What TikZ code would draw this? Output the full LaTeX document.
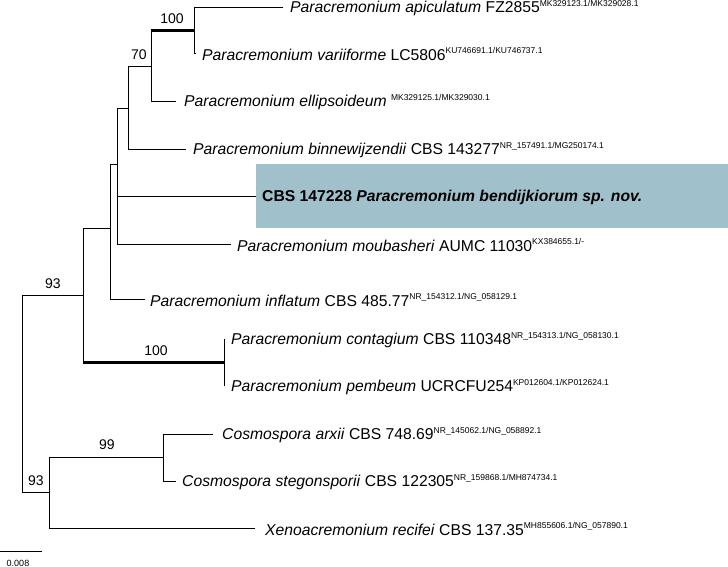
\documentclass[tikz,border=0pt]{standalone}
\usepackage{fontspec}
\setmainfont{Liberation Sans}
\newcommand{\acc}[1]{\raisebox{0.42em}{\fontsize{8.5}{8.5}\selectfont #1}}
\begin{document}
\begin{tikzpicture}[x=1pt,y=-1pt,
  br/.style={line width=0.8pt,black},
  thick br/.style={line width=3pt,black},
  lab/.style={anchor=west,inner sep=0pt,font=\fontsize{15.7}{18}\selectfont},
  bs/.style={font=\fontsize{14}{16}\selectfont,inner sep=0pt}]
\useasboundingbox (0,0) rectangle (728,567);
\fill[fill={rgb,255:red,160;green,193;blue,204}] (256,164) rectangle (728,228);
% internal nodes
\coordinate (nA) at (194,31);
\coordinate (n70) at (151,66);
\coordinate (nB) at (128,108);
\coordinate (nC) at (117,164);
\coordinate (nD) at (110,228);
\coordinate (n93) at (83,295);
\coordinate (root) at (22,295);
\coordinate (nE) at (22,492);
\coordinate (n93b) at (49,492);
\coordinate (n99) at (163,457);
\coordinate (nCP) at (224,362);
% tips
\coordinate (t1) at (283,7);
\coordinate (t2) at (196,53);
\coordinate (t3) at (176,101);
\coordinate (t4) at (186,149);
\coordinate (t5) at (256,196);
\coordinate (t6) at (231,244);
\coordinate (t7) at (145,299);
\coordinate (t8) at (226,339);
\coordinate (t9) at (226,386);
\coordinate (t10) at (213,434);
\coordinate (t11) at (176,481);
\coordinate (t12) at (255,528);
% branches
\draw[br] (t1) -| (nA |- t1) -- (nA |- t2) -- (t2);
\draw[thick br] (n70 |- nA) -- (nA);
\draw[br] (n70 |- nA) -- (n70 |- t3) -- (t3);
\draw[br] (nB |- n70) -- (n70);
\draw[br] (nB |- n70) -- (nB |- t4) -- (t4);
\draw[br] (nC |- nB) -- (nB);
\draw[br] (nC |- nB) -- (nC |- t6) -- (t6);
\draw[br] (nC |- t5) -- (t5);
\draw[br] (nD |- nC) -- (nC);
\draw[br] (nD |- nC) -- (nD |- t7) -- (t7);
\draw[br] (n93 |- nD) -- (nD);
\draw[br] (n93 |- nD) -- (n93 |- nCP);
\draw[br] (root) -- (n93);
\draw[thick br] (n93 |- nCP) -- (nCP);
\draw[br] (nCP |- t8) -- (nCP |- t9);
\draw[br] (root) -- (nE) -- (n93b);
\draw[br] (n93b |- n99) -- (n93b |- t12) -- (t12);
\draw[br] (n93b |- n99) -- (n99);
\draw[br] (t10) -- (n99 |- t10) -- (n99 |- t11) -- (t11);
% labels
\node[lab] (l1) at (290,8) {\textit{Paracremonium apiculatum} FZ2855\acc{MK329123.1/MK329028.1}};
\node[lab] (l2) at (202,54) {\textit{Paracremonium variiforme} LC5806\acc{KU746691.1/KU746737.1}};
\node[lab] (l3) at (184,102) {\textit{Paracremonium ellipsoideum} \acc{MK329125.1/MK329030.1}};
\node[lab] (l4) at (193,150) {\textit{Paracremonium binnewijzendii} CBS 143277\acc{NR\_157491.1/MG250174.1}};
\node[lab] (l5) at (262,197) {\textbf{CBS 147228 \textit{Paracremonium bendijkiorum sp. nov.}}};
\node[lab] (l6) at (237,245) {\textit{Paracremonium moubasheri} AUMC 11030\acc{KX384655.1/-}};
\node[lab] (l7) at (150,300) {\textit{Paracremonium inflatum} CBS 485.77\acc{NR\_154312.1/NG\_058129.1}};
\node[lab] (l8) at (231,340) {\textit{Paracremonium contagium} CBS 110348\acc{NR\_154313.1/NG\_058130.1}};
\node[lab] (l9) at (231,387) {\textit{Paracremonium pembeum} UCRCFU254\acc{KP012604.1/KP012624.1}};
\node[lab] (l10) at (222,435) {\textit{Cosmospora arxii} CBS 748.69\acc{NR\_145062.1/NG\_058892.1}};
\node[lab] (l11) at (182,482) {\textit{Cosmospora stegonsporii} CBS 122305\acc{NR\_159868.1/MH874734.1}};
\node[lab] (l12) at (265,529) {\textit{Xenoacremonium recifei} CBS 137.35\acc{MH855606.1/NG\_057890.1}};
% support values
\node[bs] (s100a) at (172,19) {100};
\node[bs] (s70) at (139,55) {70};
\node[bs] (s93a) at (53,284) {93};
\node[bs] (s100b) at (156,351) {100};
\node[bs] (s99) at (107,445) {99};
\node[bs] (s93b) at (36,481) {93};
% scale bar
\coordinate (sb1) at (0,551);
\coordinate (sb2) at (42,551);
\draw[br] (sb1) -- (sb2);
\node[inner sep=0pt,font=\fontsize{9}{10}\selectfont] (sbl) at (18,563) {0.008};
\end{tikzpicture}
\end{document}
